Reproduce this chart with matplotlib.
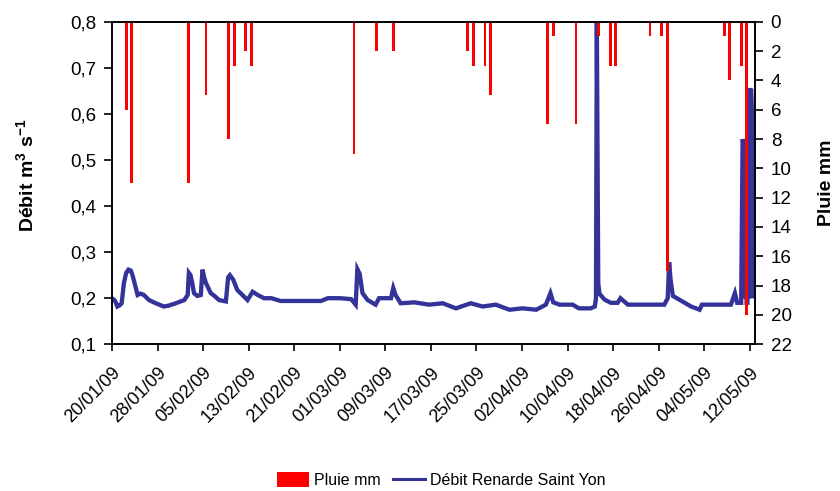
import datetime as dt
import matplotlib
matplotlib.use('Agg')
import matplotlib.pyplot as plt
import matplotlib.dates as mdates
import matplotlib.transforms as mtransforms
from matplotlib.ticker import FuncFormatter, MultipleLocator
from matplotlib.patches import Patch
from matplotlib.lines import Line2D

plt.rcParams['font.family'] = ['Liberation Sans', 'DejaVu Sans']
plt.rcParams['mathtext.fontset'] = 'custom'
plt.rcParams['mathtext.rm'] = 'Liberation Sans'
plt.rcParams['mathtext.bf'] = 'Liberation Sans:bold'

start = dt.datetime(2009, 1, 20)

# daily rain (mm), dd/mm of 2009
rain_dates = ['22/01', '23/01', '02/02', '05/02', '09/02', '10/02', '12/02', '13/02',
              '03/03', '07/03', '10/03', '23/03', '24/03', '26/03', '27/03',
              '06/04', '07/04', '11/04', '15/04', '17/04', '18/04', '24/04',
              '26/04', '27/04', '07/05', '08/05', '10/05', '11/05']
rain_mm = [6, 11, 11, 5, 8, 3, 2, 3,
           9, 2, 2, 2, 3, 3, 5,
           7, 1, 7, 1, 3, 3, 1,
           1, 17, 1, 4, 3, 20]

# discharge (m3/s), time in days since 20/01/09
flow_day = [0.0, 0.5, 0.95, 1.4, 1.7, 2.1, 2.5, 2.9, 3.3, 3.6, 3.9, 4.5, 5.0, 5.6,
            6.5, 7.7, 9.1, 10.0, 11.2, 12.7, 13.3, 13.5, 13.8, 14.1, 14.4, 15.0,
            15.6, 15.9, 16.2, 16.5, 17.35, 18.0, 18.8, 20.0, 20.4, 20.7, 21.3,
            22.0, 22.9, 23.8, 24.7, 25.6, 26.7, 28.0, 29.6, 33.0, 36.7, 37.9,
            40.0, 42.0, 42.8, 43.1, 43.5, 44.0, 44.9, 46.3, 46.9, 49.0, 49.4,
            49.8, 50.7, 53.1, 55.7, 58.1, 60.4, 63.0, 65.1, 67.4, 69.8, 72.1,
            74.5, 76.2, 77.0, 77.5, 78.6, 80.9, 82.0, 84.1, 84.8, 85.0, 85.15,
            85.3, 85.4, 85.6, 86.5, 87.6, 88.8, 89.3, 90.6, 94.0, 97.0, 97.6,
            97.85, 98.1, 98.5, 99.2, 101.7, 103.2, 103.6, 106.0, 108.7, 109.4,
            109.8, 110.5, 110.75, 110.85, 110.95, 111.05, 111.15, 111.3, 111.45,
            111.6, 111.75, 111.85, 111.95, 112.1, 112.25, 112.4, 112.5, 112.6,
            112.75, 112.85, 112.95]
flow_val = [0.200, 0.195, 0.182, 0.185, 0.189, 0.233, 0.255, 0.262, 0.260, 0.250,
            0.236, 0.207, 0.210, 0.207, 0.196, 0.189, 0.182, 0.184, 0.189, 0.196,
            0.207, 0.255, 0.250, 0.233, 0.211, 0.205, 0.207, 0.262, 0.245, 0.233,
            0.211, 0.205, 0.196, 0.193, 0.245, 0.250, 0.240, 0.218, 0.207, 0.196,
            0.214, 0.207, 0.200, 0.200, 0.194, 0.194, 0.194, 0.200, 0.200, 0.198,
            0.186, 0.263, 0.253, 0.211, 0.196, 0.186, 0.200, 0.200, 0.222, 0.207,
            0.189, 0.191, 0.186, 0.189, 0.178, 0.189, 0.182, 0.186, 0.175, 0.178,
            0.175, 0.186, 0.211, 0.191, 0.186, 0.186, 0.178, 0.178, 0.182, 0.200,
            0.800, 0.450, 0.233, 0.210, 0.197, 0.190, 0.190, 0.200, 0.186, 0.186,
            0.186, 0.200, 0.278, 0.240, 0.205, 0.200, 0.182, 0.175, 0.186, 0.186,
            0.186, 0.211, 0.190, 0.190, 0.545, 0.540, 0.200, 0.520, 0.250, 0.500,
            0.190, 0.190, 0.550, 0.200, 0.655, 0.650, 0.655, 0.600, 0.200, 0.600,
            0.330, 0.260, 0.300]

rain_x = [dt.datetime.strptime(d + '/2009', '%d/%m/%Y') + dt.timedelta(hours=12)
          for d in rain_dates]
flow_x = [start + dt.timedelta(days=d) for d in flow_day]
tick_x = [start + dt.timedelta(days=8 * i) for i in range(15)]

navy = '#333399'

fig = plt.figure(figsize=(8.4, 4.91), dpi=100)
ax = fig.add_axes([0.1333, 0.2988, 0.766, 0.657])
ax2 = ax.twinx()

ax.plot(flow_x, flow_val, color=navy, lw=3.1, solid_joinstyle='miter')
ax2.bar(rain_x, rain_mm, width=0.5, color='#ff0000', linewidth=0)

ax.set_xlim(start, start + dt.timedelta(days=113))
ax.set_ylim(0.1, 0.8)
ax.yaxis.set_major_locator(MultipleLocator(0.1))
ax.yaxis.set_major_formatter(FuncFormatter(lambda v, p: f'{v:.1f}'.replace('.', ',')))
ax2.set_ylim(22, 0)
ax2.set_yticks(range(0, 23, 2))

for a in (ax, ax2):
    for s in a.spines.values():
        s.set_linewidth(1.2)
    a.tick_params(width=1.2, length=6, labelsize=13.5, colors='black', pad=5)

ax.set_xticks(tick_x)
ax.xaxis.set_major_formatter(mdates.DateFormatter('%d/%m/%y'))
ax.tick_params(axis='x', length=5, labelsize=13)
off = mtransforms.ScaledTranslation(0 / 100, -6 / 100, fig.dpi_scale_trans)
for lab in ax.get_xticklabels():
    lab.set_rotation(45)
    lab.set_ha('right')
    lab.set_va('top')
    lab.set_rotation_mode('anchor')
    lab.set_transform(lab.get_transform() + off)

ax.set_ylabel(r'Débit m$^\mathbf{3}$ s$^\mathbf{-1}$', fontsize=14,
              fontweight='bold')
ax.yaxis.set_label_coords(-0.115, 0.525)
ax2.set_ylabel('Pluie mm', fontsize=14, fontweight='bold')
ax2.yaxis.set_label_coords(1.098, 0.5)

handles = [Patch(facecolor='#ff0000', edgecolor='none'),
           Line2D([], [], color=navy, lw=2.2)]
fig.legend(handles, ['Pluie mm', 'Débit Renarde Saint Yon'], loc='center',
           bbox_to_anchor=(0.5256, 0.022), ncol=2, frameon=False, fontsize=11.5,
           handlelength=2.0, handleheight=1.0, handletextpad=0.3, columnspacing=0.8)

fig.savefig('out.png', dpi=100, facecolor='white')
